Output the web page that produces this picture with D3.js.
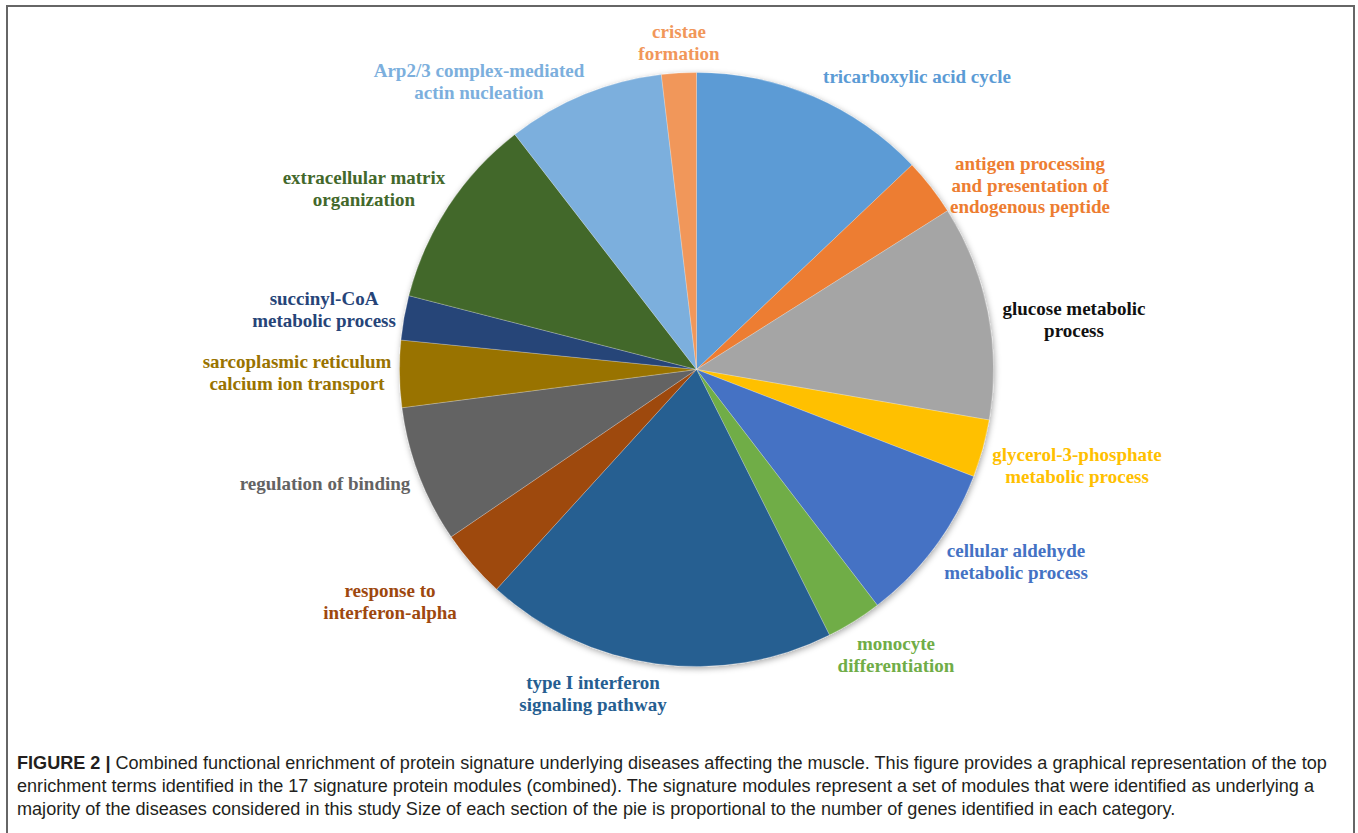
<!DOCTYPE html>
<html>
<head>
<meta charset="utf-8">
<script src="https://cdn.jsdelivr.net/npm/d3@7"></script>
<style>
  body { margin: 0; background: #fff; }
  svg { display: block; }
</style>
</head>
<body>
<svg id="chart" width="1358" height="833"></svg>
<script>
// categories in clockwise order from 12 o'clock
const categories = [
  "tricarboxylic acid cycle",
  "antigen processing and presentation of endogenous peptide",
  "glucose metabolic process",
  "glycerol-3-phosphate metabolic process",
  "cellular aldehyde metabolic process",
  "monocyte differentiation",
  "type I interferon signaling pathway",
  "response to interferon-alpha",
  "regulation of binding",
  "sarcoplasmic reticulum calcium ion transport",
  "succinyl-CoA metabolic process",
  "extracellular matrix organization",
  "Arp2/3 complex-mediated actin nucleation",
  "cristae formation"
];
// relative size of each slice
const values = [46.5, 11.2, 42.1, 11.3, 31.4, 10.9, 68.9, 13.4, 26.9, 13.1, 8.7, 37.9, 30.9, 6.8];
// label lines as printed
const labelLines = [
  ["tricarboxylic acid cycle"],
  ["antigen processing", "and presentation of", "endogenous peptide"],
  ["glucose metabolic", "process"],
  ["glycerol-3-phosphate", "metabolic process"],
  ["cellular aldehyde", "metabolic process"],
  ["monocyte", "differentiation"],
  ["type I interferon", "signaling pathway"],
  ["response to", "interferon-alpha"],
  ["regulation of binding"],
  ["sarcoplasmic reticulum", "calcium ion transport"],
  ["succinyl-CoA", "metabolic process"],
  ["extracellular matrix", "organization"],
  ["Arp2/3 complex-mediated", "actin nucleation"],
  ["cristae", "formation"]
];
const captionLines = [
  "Combined functional enrichment of protein signature underlying diseases affecting the muscle. This figure provides a graphical representation of the top",
  "enrichment terms identified in the 17 signature protein modules (combined). The signature modules represent a set of modules that were identified as underlying a",
  "majority of the diseases considered in this study Size of each section of the pie is proportional to the number of genes identified in each category."
];

// styling
const sliceColors = ["#5B9BD5", "#ED7D31", "#A5A5A5", "#FFC000", "#4472C4", "#70AD47",
  "#255E91", "#9E480E", "#636363", "#997300", "#264478", "#43682B", "#7CAFDD", "#F1975A"];
const labelColors = ["#5B9BD5", "#ED7D31", "#111111", "#FFC000", "#4472C4", "#70AD47",
  "#255E91", "#9E480E", "#636363", "#997300", "#264478", "#43682B", "#7CAFDD", "#F1975A"];
// label centres (layout only)
const labelPos = [
  [917, 77], [1030, 164], [1074, 309], [1077, 455], [1016, 551], [896, 644], [593, 683],
  [390, 591], [325, 484], [297, 362], [324, 299], [364, 178], [479, 71], [679, 32]
];

const svg = d3.select("#chart");
const cx = 696.5, cy = 369.5, radius = 297;

// frame
svg.append("rect")
  .attr("x", 7).attr("y", 6).attr("width", 1347).attr("height", 840)
  .attr("fill", "none").attr("stroke", "#666").attr("stroke-width", 2);

const defs = svg.append("defs");
const shadow = defs.append("filter").attr("id", "shadow")
  .attr("x", "-10%").attr("y", "-10%").attr("width", "120%").attr("height", "120%");
shadow.append("feDropShadow")
  .attr("dx", 1).attr("dy", 2).attr("stdDeviation", 3)
  .attr("flood-color", "#000").attr("flood-opacity", 0.35);

const pie = d3.pie().sort(null).value(d => d)(values);
const arc = d3.arc().innerRadius(0).outerRadius(radius);

const g = svg.append("g").attr("transform", `translate(${cx},${cy})`);
g.append("g").attr("filter", "url(#shadow)")
  .selectAll("path")
  .data(pie)
  .enter()
  .append("path")
    .attr("d", arc)
    .attr("fill", (d, i) => sliceColors[i])
    .attr("stroke", "#fff")
    .attr("stroke-width", 0.4)
    .attr("stroke-opacity", 0.6);

// labels
const labels = svg.selectAll("text.lbl")
  .data(labelLines)
  .enter()
  .append("text")
    .attr("class", "lbl")
    .attr("text-anchor", "middle")
    .attr("font-family", "'Liberation Serif', 'Times New Roman', serif")
    .attr("font-weight", "bold")
    .attr("font-size", 19)
    .attr("fill", (d, i) => labelColors[i]);
labels.each(function(lines, i) {
  const t = d3.select(this);
  lines.forEach((line, j) => {
    t.append("tspan")
      .attr("x", labelPos[i][0])
      .attr("y", labelPos[i][1] + 6 + j * 21.5)
      .text(line);
  });
});

// caption
const capX = 17, capW = 1311;
const cap = svg.append("g")
  .attr("font-family", "'Liberation Sans', Arial, Helvetica, sans-serif")
  .attr("fill", "#231f20");
const capTexts = captionLines.map((line, i) => {
  const t = cap.append("text").attr("x", capX).attr("y", 769 + i * 23).attr("font-size", 17);
  if (i === 0) {
    t.append("tspan").attr("font-weight", "bold").text("FIGURE 2 | ");
  }
  t.append("tspan").text(line);
  return t;
});
// fit font size so the first line spans the same width as the reference
const w0 = capTexts[0].node().getComputedTextLength();
const fs = 17 * capW / w0;
capTexts.forEach(t => t.attr("font-size", fs));
</script>
</body>
</html>
